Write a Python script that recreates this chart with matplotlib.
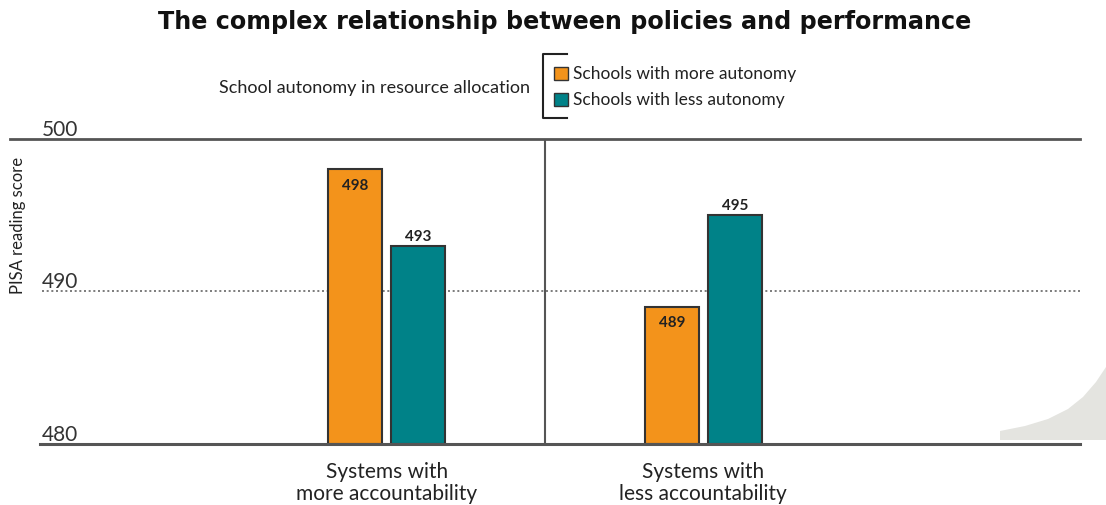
import matplotlib.pyplot as plt
from matplotlib.patches import Rectangle, Polygon

plt.rcParams["font.family"] = ["Lato", "DejaVu Sans"]

# data
groups = ["Systems with\nmore accountability", "Systems with\nless accountability"]
series = ["Schools with more autonomy", "Schools with less autonomy"]
more_autonomy = [498, 489]
less_autonomy = [493, 495]
y_ticks = [480, 490, 500]

COLORS = {
    "more": "#f3931b",
    "less": "#008288",
}
EDGE = "#333333"
TEXT = "#222222"
W, H = 1106, 506


def fig_xy(px, py):
    """Pixel position (from top-left) to figure fraction."""
    return px / W, 1 - py / H


fig = plt.figure(figsize=(W / 100, H / 100), dpi=100)
ax = fig.add_axes([10 / W, 61 / H, 1070 / W, 305 / H])

x = [0, 1]
width = 0.17
offset = 0.0995

ax.bar(
    [i - offset for i in x], [v - y_ticks[0] for v in more_autonomy],
    bottom=y_ticks[0], width=width, color=COLORS["more"], edgecolor=EDGE,
    linewidth=1.5, zorder=3,
)
ax.bar(
    [i + offset for i in x], [v - y_ticks[0] for v in less_autonomy],
    bottom=y_ticks[0], width=width, color=COLORS["less"], edgecolor=EDGE,
    linewidth=1.5, zorder=3,
)

# value labels: orange values sit inside the bar, teal ones above it
for i, v in enumerate(more_autonomy):
    ax.annotate(str(v), (x[i] - offset, v), xytext=(0, -6), textcoords="offset points",
                ha="center", va="top", fontsize=11, fontweight="bold", color=TEXT, zorder=4)
for i, v in enumerate(less_autonomy):
    ax.annotate(str(v), (x[i] + offset, v), xytext=(0, 2), textcoords="offset points",
                ha="center", va="bottom", fontsize=11, fontweight="bold", color=TEXT, zorder=4)

ax.set_xlim(-1.19, 2.19)
ax.set_ylim(y_ticks[0], y_ticks[-1])
ax.axis("off")

# reference lines
ax.axhline(y_ticks[-1], xmin=0, xmax=1, color="#555555", lw=2, clip_on=False, zorder=2)
ax.axhline(y_ticks[0], xmin=0.028, xmax=1, color="#555555", lw=2.2, clip_on=False, zorder=5)
ax.axhline(y_ticks[1], xmin=0.03, xmax=1, color="#666666", lw=1.2,
           linestyle=(0, (1.2, 1.6)), zorder=1)
ax.axvline(0.5, color="#555555", lw=1.5, zorder=2)

for t in y_ticks:
    ax.text(0.03, t, str(t), transform=ax.get_yaxis_transform(), ha="left",
            va="bottom", fontsize=15, color="#333333")

ax.text(0.0075, 0.72, "PISA reading score", transform=ax.transAxes, rotation=90,
        ha="center", va="center", fontsize=12, color=TEXT)

for i, g in enumerate(groups):
    ax.text(x[i], 478.9, g, ha="center", va="top", fontsize=15, color=TEXT,
            linespacing=1.15)

fig.text(*fig_xy(565, 22), "The complex relationship between policies and performance",
         ha="center", va="center", fontsize=17.2, fontweight="bold", color="#111111",
         family="DejaVu Sans")

# legend with bracket
fig.text(*fig_xy(530, 88), "School autonomy in resource allocation",
         ha="right", va="center", fontsize=13, color=TEXT)
bx, by = zip(*[fig_xy(567, 55), fig_xy(543, 55), fig_xy(543, 119), fig_xy(567, 119)])
fig.add_artist(plt.Line2D(bx, by, color="#222222", lw=1.5, transform=fig.transFigure))
for label, key, yc in zip(series, ["more", "less"], [74, 100]):
    fig.add_artist(Rectangle(fig_xy(554, yc + 7), 14 / W, 13 / H,
                             facecolor=COLORS[key], edgecolor=EDGE, lw=1,
                             transform=fig.transFigure))
    fig.text(*fig_xy(573, yc), label, ha="left", va="center",
             fontsize=12.5, color=TEXT)

# page curl in the lower right corner
curl = [(1000, 441), (1000, 432), (1025, 427), (1048, 420), (1068, 410),
        (1083, 398), (1096, 383), (1106, 368), (1106, 441)]
fig.add_artist(Polygon([fig_xy(px, py) for px, py in curl], closed=True,
                       facecolor="#e4e4e0", edgecolor="none", transform=fig.transFigure,
                       zorder=0))

fig.savefig("out.png", dpi=100)
